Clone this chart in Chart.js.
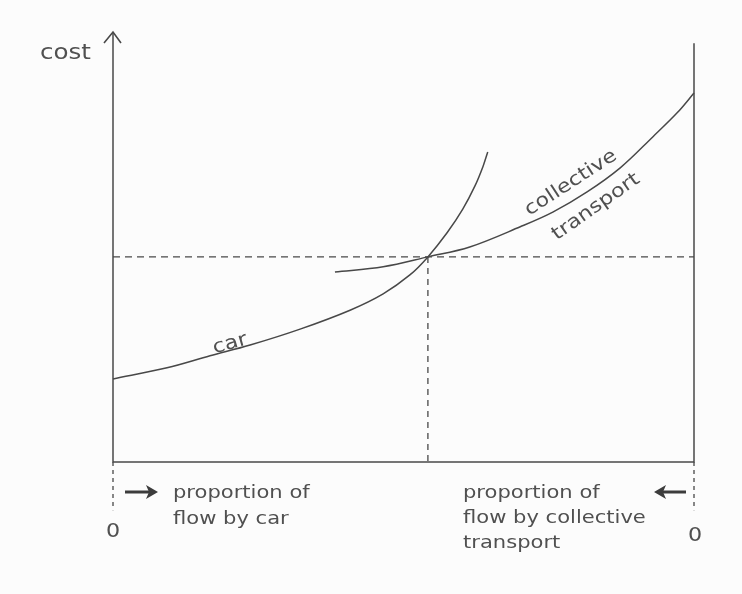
<!DOCTYPE html>
<html>
<head>
<meta charset="utf-8">
<script src="https://cdn.jsdelivr.net/npm/chart.js@4.4.1/dist/chart.umd.min.js"></script>
<style>
    html, body { margin: 0; padding: 0; background: #fcfcfc; }
    #wrap { width: 742px; height: 594px; }
</style>
</head>
<body>
<div id="wrap"><canvas id="costChart"></canvas></div>
<script>
// share of flow by car runs 0 -> 100 left to right (collective = 100 - x)
const carShare = [0, 9.3, 16.7, 23.6, 32.2, 40.8, 46.5, 51.1, 54.2, 57.5, 60.2, 62.3, 63.7, 64.5];
const carCost = [19.3, 21.9, 24.7, 27.2, 30.9, 35.3, 39.1, 43.5, 47.7, 53.3, 58.8, 64.2, 68.8, 72.1];

const collShare = [38.2, 46.5, 54.2, 61.4, 70.1, 75.7, 81.6, 87.3, 92.9, 97.1, 100];
const collCost = [44.2, 45.4, 47.7, 50.0, 54.7, 58.1, 62.8, 68.4, 75.6, 81.2, 85.8];

// equilibrium point
const eqShare = 54.2;
const eqCost = 47.7;

const axisTop = 100;      // top of cost axis
const rightTop = 97.4;    // top of the right-hand axis
const zeroTickDepth = -11.2;

const zeroLabels = ['0', '0'];
const carFlowLabel = ['proportion of', 'flow by car'];
const collFlowLabel = ['proportion of', 'flow by collective', 'transport'];

const ink = '#484848';
const textInk = '#505050';
const font = '"DejaVu Sans", sans-serif';
const stretch = 1.17; // the original lettering is a wide geometric face

const pts = (xs, ys) => xs.map((x, i) => ({ x: x, y: ys[i] }));

const lineSet = (data, opts) => Object.assign({
    data: data,
    borderColor: ink,
    borderWidth: 1.5,
    pointRadius: 0,
    fill: false,
    clip: false,
    showLine: true
}, opts || {});

// text with a horizontal stretch, anchored at (x, y)
const drawText = (ctx, txt, x, y, size, align, deg) => {
    ctx.save();
    ctx.translate(x, y);
    if (deg) ctx.rotate(deg * Math.PI / 180);
    ctx.scale(stretch, 1);
    ctx.font = size + 'px ' + font;
    ctx.textAlign = align;
    ctx.textBaseline = 'middle';
    ctx.fillText(txt, 0, 0);
    ctx.restore();
};

const arrow = (ctx, xFrom, xTo, y) => {
    const dir = Math.sign(xTo - xFrom);
    ctx.beginPath();
    ctx.moveTo(xFrom, y);
    ctx.lineTo(xTo - dir * 6, y);
    ctx.lineWidth = 3;
    ctx.stroke();
    ctx.beginPath();
    ctx.moveTo(xTo, y);
    ctx.lineTo(xTo - dir * 12, y - 7);
    ctx.lineTo(xTo - dir * 9, y);
    ctx.lineTo(xTo - dir * 12, y + 7);
    ctx.closePath();
    ctx.fill();
};

const labelPlugin = {
    id: 'labels',
    afterDraw(chart) {
        const ctx = chart.ctx;
        const xs = chart.scales.x;
        const ys = chart.scales.y;
        const x0 = xs.getPixelForValue(0);
        const x1 = xs.getPixelForValue(100);
        const yTop = ys.getPixelForValue(axisTop);
        const yBase = ys.getPixelForValue(0);

        ctx.save();
        ctx.strokeStyle = ink;
        ctx.fillStyle = textInk;
        ctx.lineWidth = 1.6;

        // arrow head on the cost axis
        ctx.beginPath();
        ctx.moveTo(x0 - 9, yTop + 11);
        ctx.lineTo(x0, yTop);
        ctx.lineTo(x0 + 8, yTop + 11);
        ctx.stroke();

        drawText(ctx, 'cost', x0 - 22, yTop + 22, 21, 'right');

        // curve labels
        drawText(ctx, 'car', 230, 344, 19, 'center', -16);
        drawText(ctx, 'collective', 571, 183, 19, 'center', -33);
        drawText(ctx, 'transport', 596, 207, 19, 'center', -35);

        // bottom labels
        carFlowLabel.forEach((t, i) => drawText(ctx, t, 173, yBase + 31 + i * 26, 18, 'left'));
        collFlowLabel.forEach((t, i) => drawText(ctx, t, 463, yBase + 31 + i * 25, 18, 'left'));

        ctx.strokeStyle = '#3c3c3c';
        ctx.fillStyle = '#3c3c3c';
        arrow(ctx, 125, 158, yBase + 30);
        arrow(ctx, 686, 654, yBase + 30);

        ctx.fillStyle = textInk;
        drawText(ctx, zeroLabels[0], x0, yBase + 70, 19, 'center');
        drawText(ctx, zeroLabels[1], x1 + 1, yBase + 74, 19, 'center');
        ctx.restore();
    }
};

const ctx = document.getElementById('costChart').getContext('2d');
new Chart(ctx, {
    type: 'scatter',
    data: {
        datasets: [
            lineSet(pts(carShare, carCost), { tension: 0.35 }),
            lineSet(pts(collShare, collCost), { tension: 0.35 }),
            // equilibrium guides
            lineSet(pts([0, 100], [eqCost, eqCost]), { borderDash: [7, 5], borderWidth: 1.3 }),
            lineSet(pts([eqShare, eqShare], [eqCost, 0]), { borderDash: [6, 5], borderWidth: 1.3 }),
            // axes
            lineSet(pts([0, 0, 100, 100], [axisTop, 0, 0, rightTop])),
            lineSet(pts([0, 0], [0, zeroTickDepth]), { borderDash: [4, 4], borderWidth: 1.3 }),
            lineSet(pts([100, 100], [0, zeroTickDepth]), { borderDash: [4, 4], borderWidth: 1.3 })
        ]
    },
    options: {
        responsive: true,
        maintainAspectRatio: false,
        animation: false,
        layout: { padding: { left: 113, right: 48, top: 32, bottom: 132 } },
        plugins: { legend: { display: false }, tooltip: { enabled: false } },
        scales: {
            x: { type: 'linear', min: 0, max: 100, display: false },
            y: { type: 'linear', min: 0, max: 100, display: false }
        }
    },
    plugins: [labelPlugin]
});
</script>
</body>
</html>
